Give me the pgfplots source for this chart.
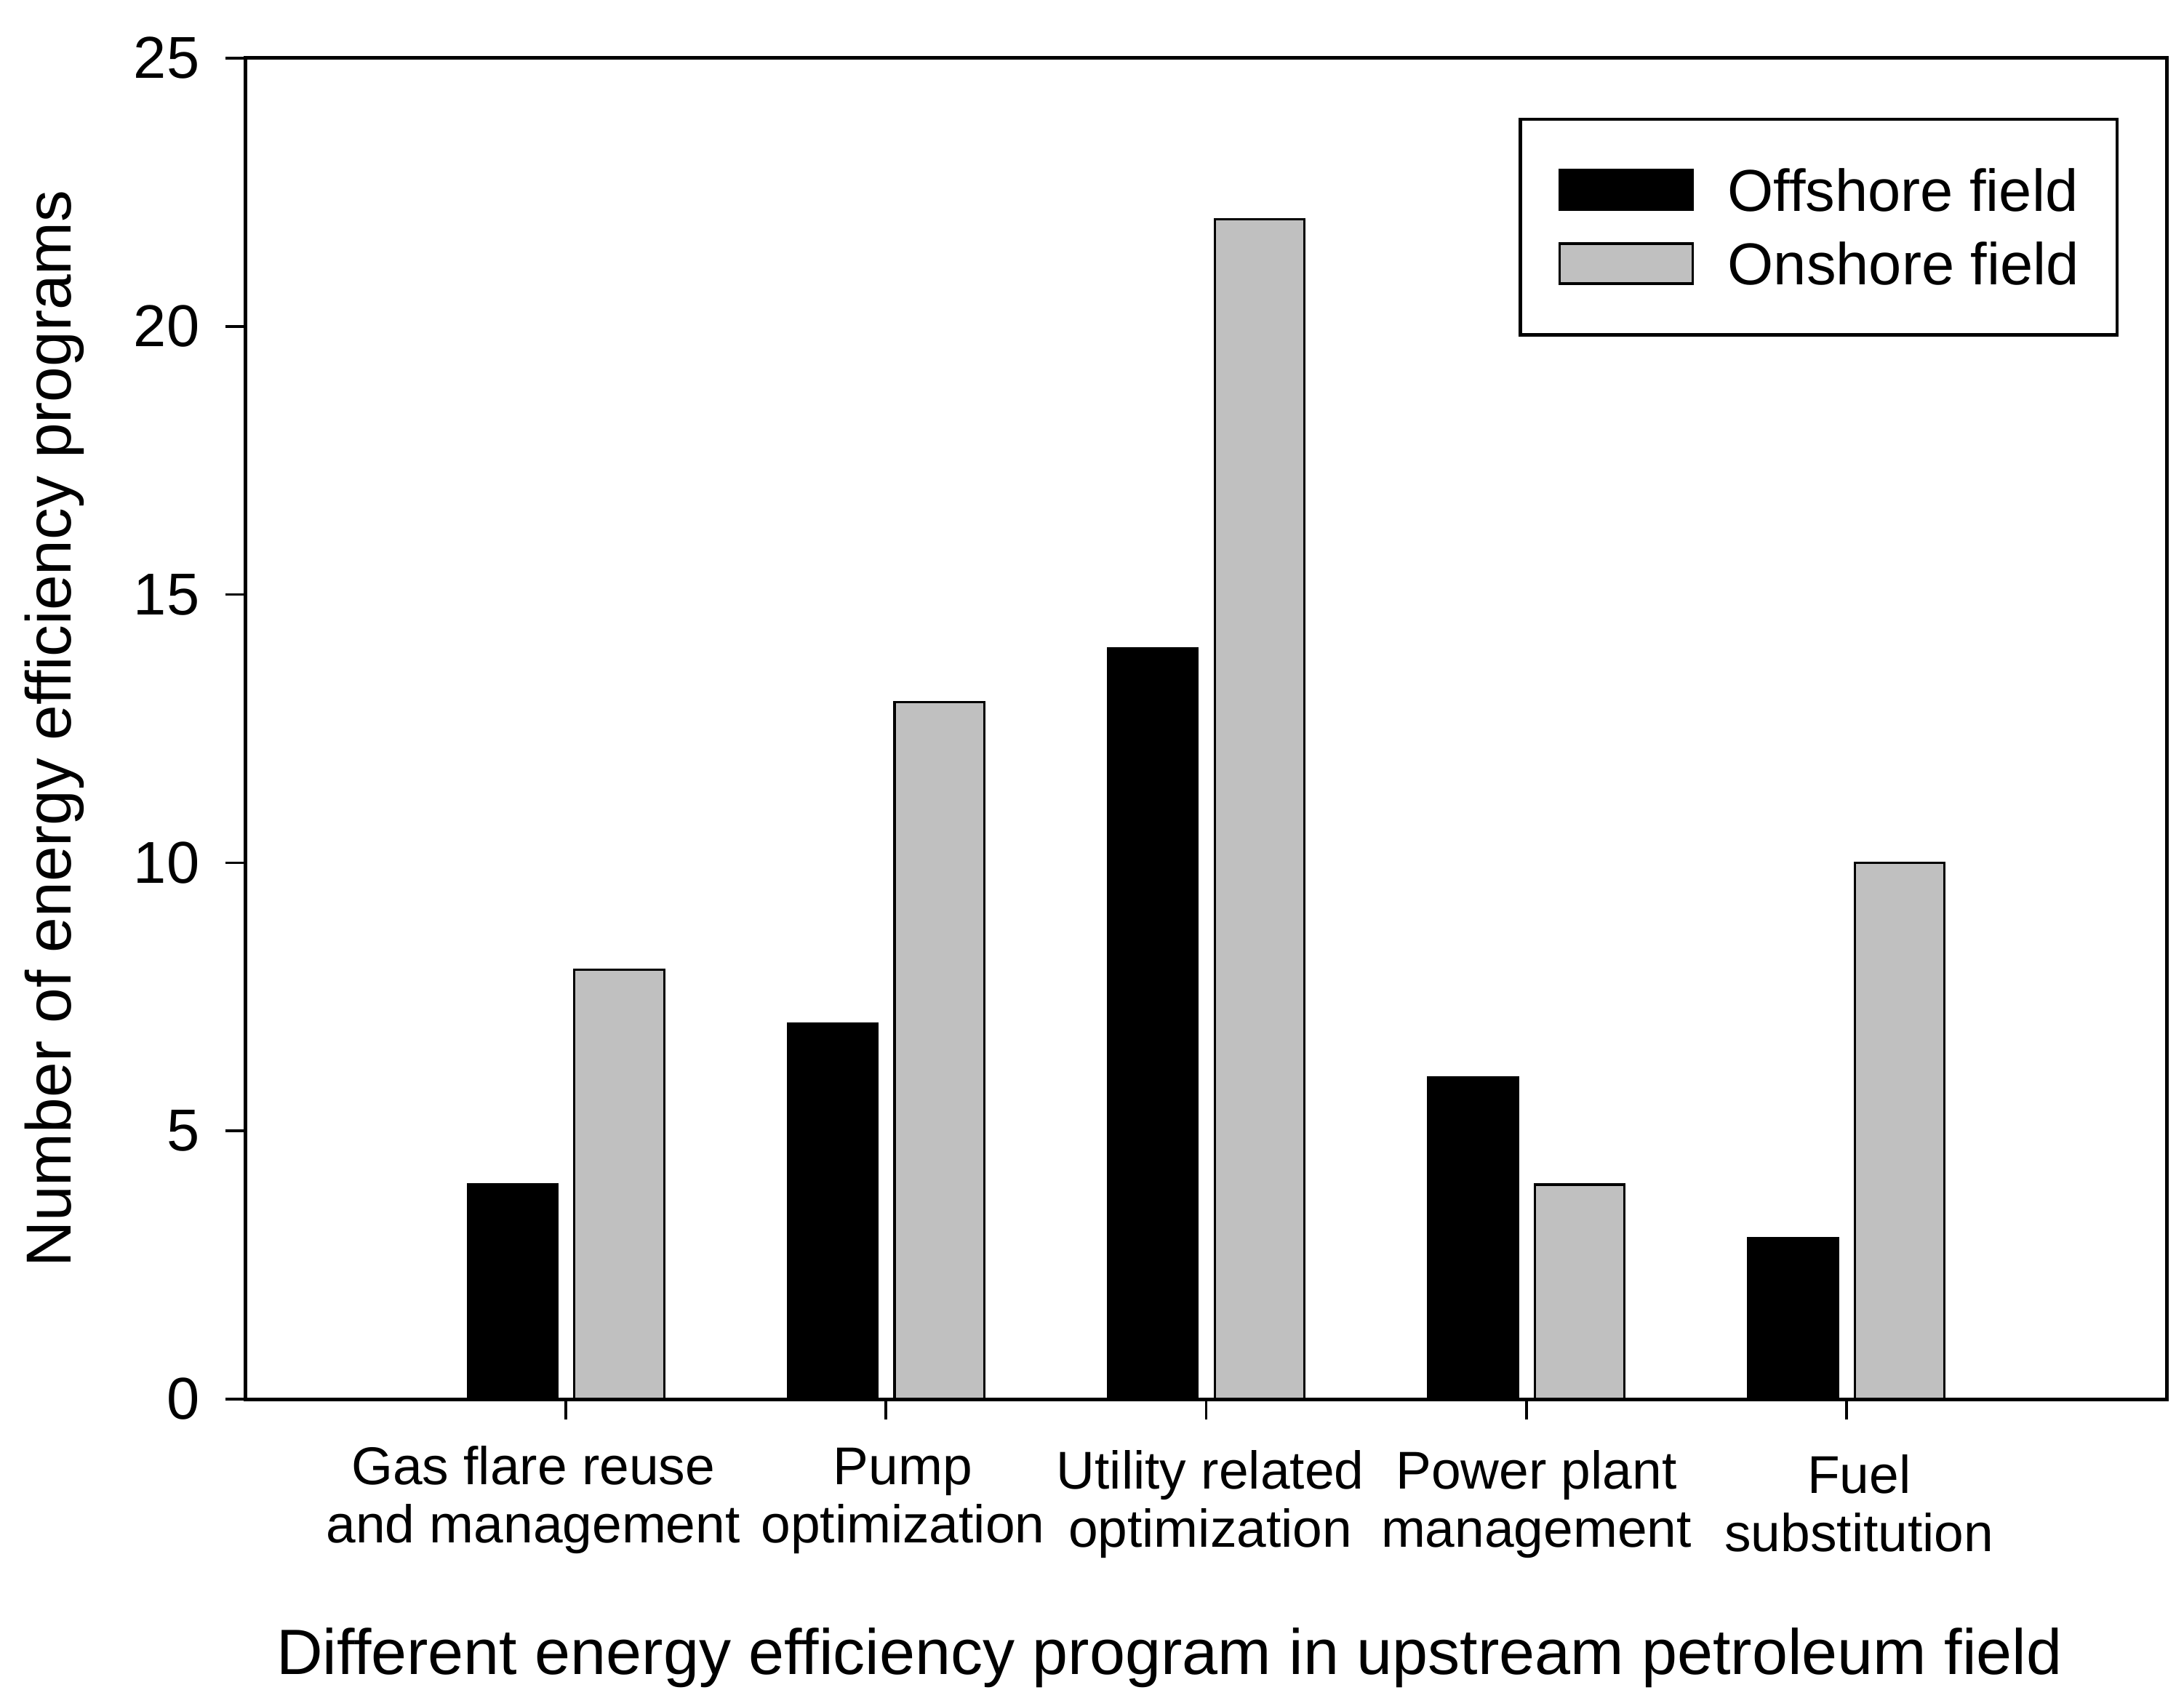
\documentclass[border=0pt]{standalone}
\usepackage{fontspec}
\setmainfont{Liberation Sans}
\usepackage{pgfplots}
\pgfplotsset{compat=1.18}
\definecolor{barGray}{RGB}{192,192,192}

% two-line tick label: #1 = 2x horizontal shift, #2 = strut height, #3/#4 = lines
\newcommand{\tl}[4]{\hspace*{#1}\begin{tabular}{@{}c@{}}\rule{0pt}{#2}#3\\#4\end{tabular}}

\pgfplotsset{
  boxlegend/.style={legend image code/.code={\draw[##1] (0pt,-4.3pt) rectangle (29.4pt,4.5pt);}},
}

\begin{document}
\begin{tikzpicture}
\useasboundingbox (-54.08pt,-65.76pt) rectangle (426.4pt,307.84pt);
\begin{axis}[
    at={(0,0)}, anchor=south west,
    scale only axis,
    width=422.56pt, height=295.04pt,
    xmin=0, xmax=6,
    ymin=0, ymax=25,
    xtick={1,2,3,4,5},
    ytick={0,5,10,15,20,25},
    xticklabels={
      {\tl{-14.4pt}{8.96pt}{Gas flare reuse}{and management}},
      {\tl{7.4pt}{8.96pt}{Pump}{optimization}},
      {\tl{1.8pt}{9.9pt}{Utility related}{optimization}},
      {\tl{4.4pt}{9.9pt}{Power plant}{management}},
      {\tl{5.6pt}{10.8pt}{Fuel}{substitution}}
    },
    tick pos=left,
    tick align=outside,
    major tick length=4.5pt,
    every tick/.style={black, line width=0.6pt},
    axis line style={line width=0.8pt},
    /pgf/number format/assume math mode=true,
    yticklabel style={font=\fontsize{13}{15.6}\selectfont, inner sep=0pt, xshift=-5.5pt},
    xticklabel style={font=\fontsize{11.7}{12.8}\selectfont, inner sep=0pt, yshift=-5.2pt},
    xlabel={Different energy efficiency program in upstream petroleum field},
    ylabel={Number of energy efficiency programs},
    xlabel style={font=\fontsize{14.1}{16.9}\selectfont, at={([xshift=-8.1pt,yshift=-60.6pt]axis description cs:0.5,0)}, anchor=base},
    ylabel style={font=\fontsize{14}{16.8}\selectfont, at={([xshift=-38.5pt]axis description cs:0,0.5)}, anchor=base, rotate=0},
    legend style={
      at={([xshift=-10.56pt,yshift=-13.12pt]axis description cs:1,1)}, anchor=north east,
      draw=black, line width=0.7pt,
      inner xsep=8.3pt, inner ysep=8.8pt,
      font=\fontsize{13}{15.6}\selectfont,
      column sep=7.4pt, row sep=2.64pt,
      nodes={inner sep=0pt, text height=11.4pt, text depth=2.2pt},
    },
    legend cell align=left,
]
\addplot[ybar, bar width=0.28, bar shift=-0.1665, fill=black, draw=black, line width=0.5pt, boxlegend]
  coordinates {(1,4) (2,7) (3,14) (4,6) (5,3)};
\addlegendentry{Offshore field}
\addplot[ybar, bar width=0.28, bar shift=0.1665, fill=barGray, draw=black, line width=0.5pt, boxlegend]
  coordinates {(1,8) (2,13) (3,22) (4,4) (5,10)};
\addlegendentry{Onshore field}
\end{axis}
\end{tikzpicture}
\end{document}
